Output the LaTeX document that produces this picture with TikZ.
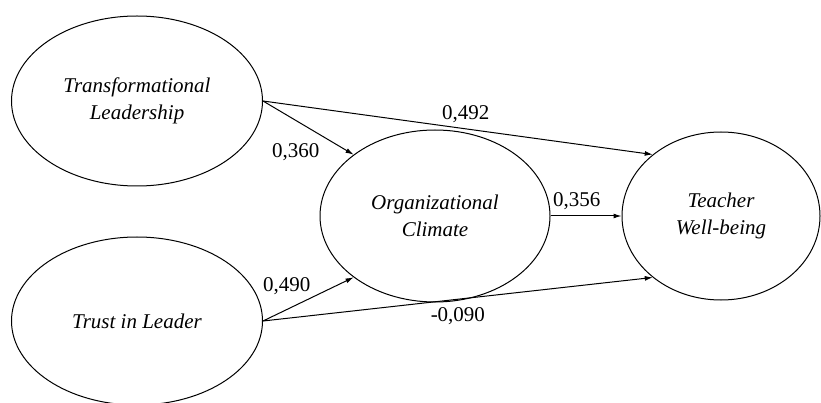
\documentclass[tikz,border=0pt]{standalone}
\usepackage{fontspec}
\setmainfont{Liberation Serif}
\usetikzlibrary{arrows.meta}
\usetikzlibrary{shapes.geometric}

\begin{document}
\begin{tikzpicture}[x=1pt,y=-1pt,node distance=286pt,
	>={Latex[width=5pt,length=8pt]},
    latent/.style = {ellipse, draw=black, line width=1pt, inner sep=0pt,
                   minimum width=251pt, minimum height=170pt,
                   align=center, font=\fontsize{21}{27}\selectfont\itshape},
    coef/.style = {font=\fontsize{21}{25}\selectfont, inner sep=2pt}]
  \useasboundingbox (0,0) rectangle (821,403);
  \node (tl) [latent] at (137,101) {Transformational\\Leadership};
  \node (trust) [latent, minimum height=168pt] at (137,321) {Trust in Leader};
  \node (oc) [latent, minimum width=230pt, minimum height=172pt] at (435,216) {Organizational\\Climate};
  \node (tw) [latent, minimum width=198pt, minimum height=168pt, right of=oc] {Teacher\\Well-being};

  \path[->,line width=1pt]
	(tl.east) edge node[coef, pos=0.65, below left, yshift=-5pt] {0,360} (oc.143)
	(tl.east) edge node[coef, pos=0.52, above, yshift=4pt] {0,492} (tw.138)
	(trust.east) edge node[coef, pos=0.55, above left] {0,490} (oc.217)
	(trust.east) edge node[coef, pos=0.5, below, yshift=-6pt] {-0,090} (tw.222)
	(oc.east) edge node[coef, pos=0, above right, yshift=4pt] {0,356} (tw.west);
\end{tikzpicture}
\end{document}
